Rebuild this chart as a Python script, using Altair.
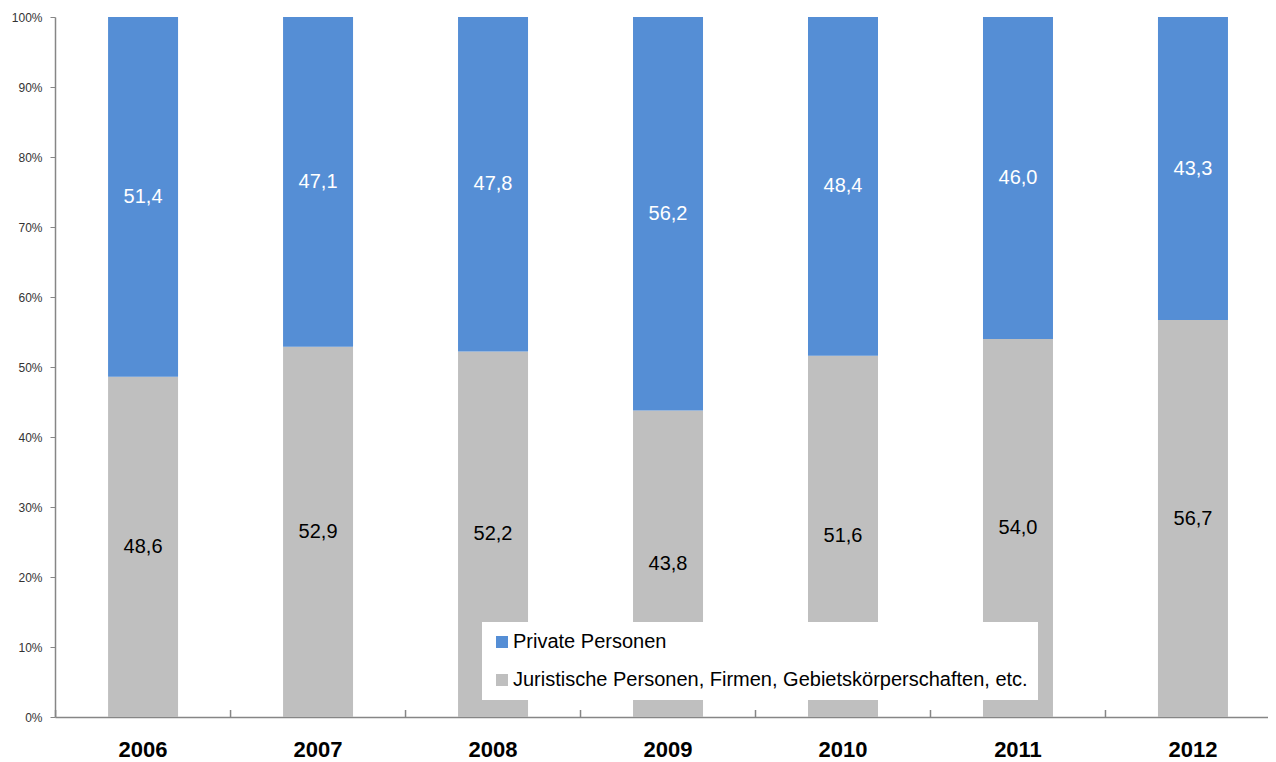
import altair as alt
import pandas as pd

years = ["2006", "2007", "2008", "2009", "2010", "2011", "2012"]
juristische = [48.6, 52.9, 52.2, 43.8, 51.6, 54.0, 56.7]
private = [51.4, 47.1, 47.8, 56.2, 48.4, 46.0, 43.3]
series_names = ["Private Personen", "Juristische Personen, Firmen, Gebietskörperschaften, etc."]
colors = ["#558ED5", "#BFBFBF"]
label_colors = ["white", "black"]

rows = []
for i, y in enumerate(years):
    rows.append({"year": y, "series": series_names[1], "value": juristische[i], "order": 0, "tc": label_colors[1]})
    rows.append({"year": y, "series": series_names[0], "value": private[i], "order": 1, "tc": label_colors[0]})
df = pd.DataFrame(rows)
ticks_df = pd.DataFrame({"year": years})

FONT = "Liberation Sans"
AXIS_COLOR = "#868686"

xscale = alt.Scale(domain=years, paddingInner=0.6, paddingOuter=0.266, align=0.57)

base = alt.Chart(df).transform_stack(
    stack="value", groupby=["year"], as_=["y0", "y1"], offset="normalize",
    sort=[alt.SortField("order", order="ascending")]
).transform_calculate(
    mid="(datum.y0 + datum.y1) / 2",
    lbl="replace(format(datum.value, '.1f'), '.', ',')"
)

bars = base.mark_bar().encode(
    x=alt.X("year:N", scale=xscale, title=None,
            axis=alt.Axis(labelAngle=0, labelFont=FONT, labelFontSize=22, labelFontWeight="bold",
                          labelColor="black", ticks=False, labelPadding=22,
                          domainColor=AXIS_COLOR, domainWidth=1.5)),
    y=alt.Y("y0:Q", scale=alt.Scale(domain=[0, 1], nice=False), title=None,
            axis=alt.Axis(format=".0%", values=[i / 10 for i in range(11)], grid=False,
                          labelFont=FONT, labelFontSize=12, labelColor="#333333",
                          tickSize=5, tickColor=AXIS_COLOR, labelPadding=8,
                          domainColor=AXIS_COLOR, domainWidth=1.5)),
    y2="y1:Q",
    color=alt.Color("series:N", scale=alt.Scale(domain=series_names, range=colors), title=None,
                    legend=alt.Legend(orient="none", legendX=427, legendY=605,
                                      fillColor="white", padding=10, symbolType="square",
                                      symbolSize=144, symbolStrokeWidth=0, labelFont=FONT,
                                      labelFontSize=20, labelColor="black", labelLimit=0,
                                      labelOffset=1, rowPadding=18)),
)

texts = base.mark_text(font=FONT, fontSize=20, baseline="middle").encode(
    x=alt.X("year:N"),
    y=alt.Y("mid:Q"),
    text="lbl:N",
    color=alt.Color("tc:N", scale=None),
)

ticks = alt.Chart(ticks_df).mark_rule(color=AXIS_COLOR, strokeWidth=1.5, xOffset=-52.5).encode(
    x=alt.X("year:N", bandPosition=0),
    y=alt.value(693),
    y2=alt.value(700),
)

chart = alt.layer(bars, ticks, texts).properties(
    width=1213, height=700,
    autosize=alt.AutoSizeParams(type="none"),
    padding={"left": 47, "top": 9, "right": 0, "bottom": 45},
).configure(background="white", view=alt.ViewConfig(stroke=None))

chart.save("out.html", embed_options={"renderer": "svg", "actions": False})
